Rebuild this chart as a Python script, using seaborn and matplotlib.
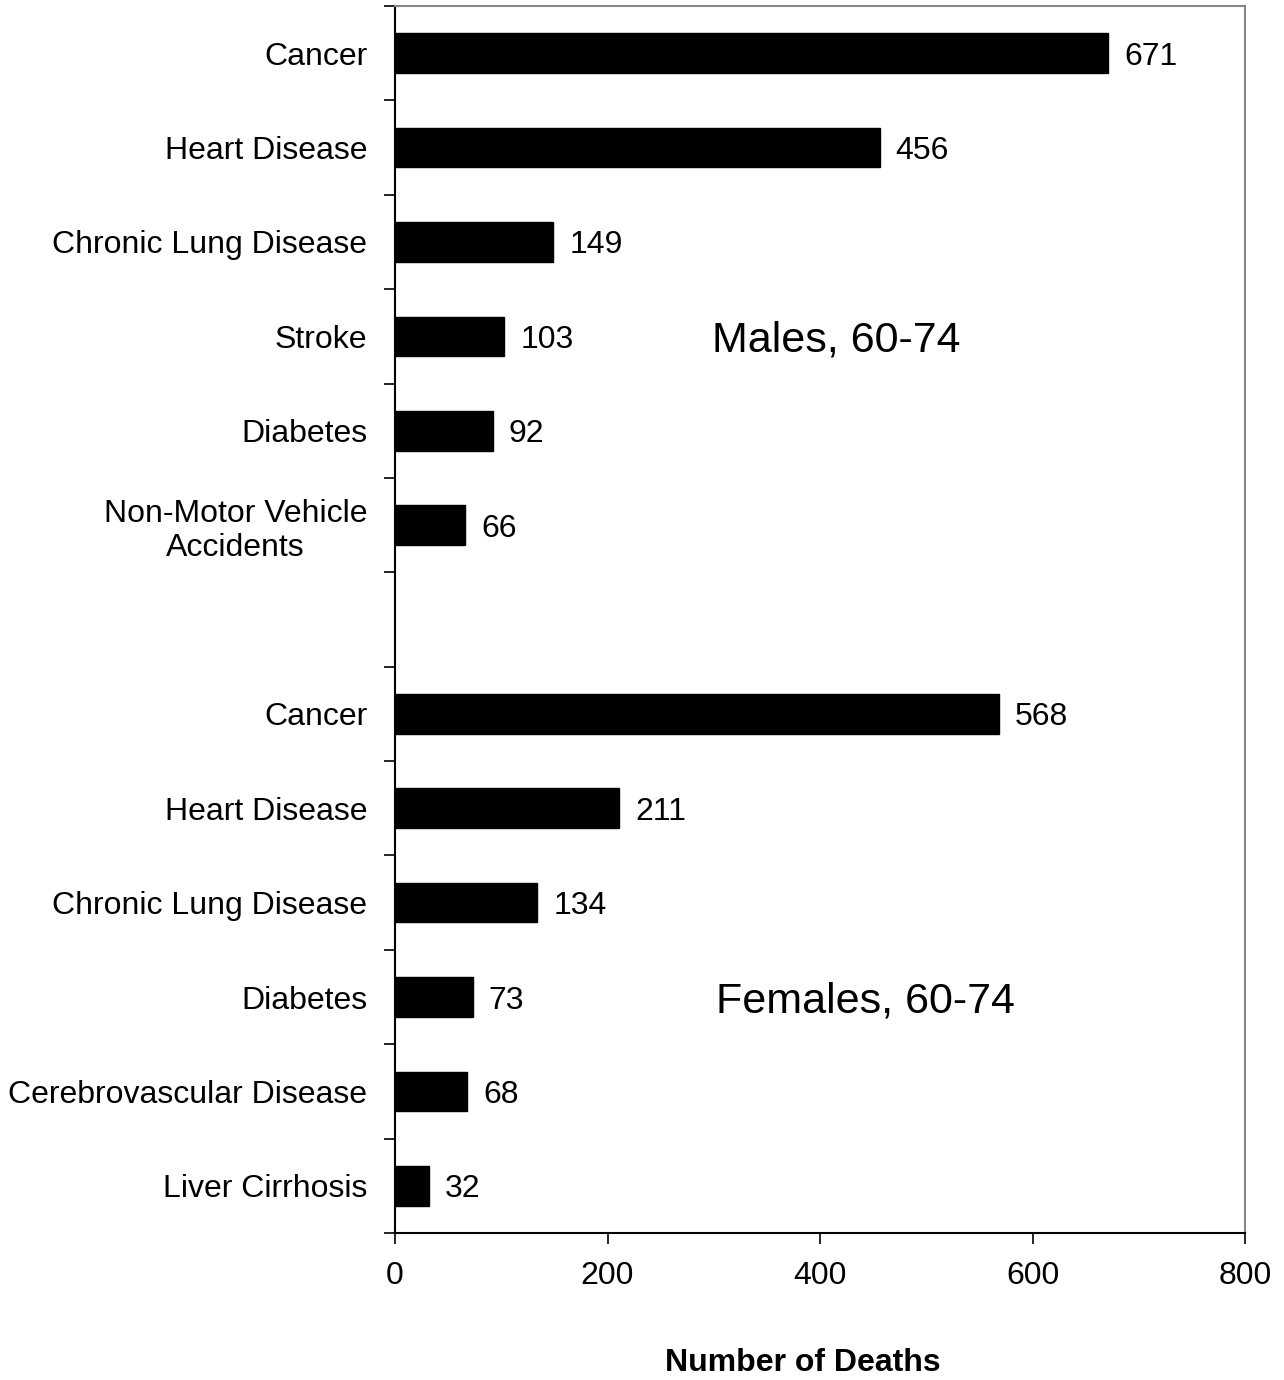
import matplotlib
matplotlib.use("Agg")
import matplotlib.pyplot as plt
import seaborn as sns
import pandas as pd
import numpy as np

male_causes = ["Cancer", "Heart Disease", "Chronic Lung Disease", "Stroke", "Diabetes",
               "Non-Motor Vehicle\nAccidents"]
male_deaths = [671, 456, 149, 103, 92, 66]
female_causes = ["Cancer", "Heart Disease", "Chronic Lung Disease", "Diabetes",
                 "Cerebrovascular Disease", "Liver Cirrhosis"]
female_deaths = [568, 211, 134, 73, 68, 32]
x_ticks = [0, 200, 400, 600, 800]
group_labels = ["Males, 60-74", "Females, 60-74"]
x_label = "Number of Deaths"

sns.set_theme(style="white")
plt.rcParams['font.family'] = ['Liberation Sans', 'DejaVu Sans']
plt.rcParams['text.color'] = 'black'
plt.rcParams['xtick.color'] = 'black'
plt.rcParams['ytick.color'] = 'black'

keys = [f"M{i}" for i in range(len(male_causes))] + ["gap"] + [f"F{i}" for i in range(len(female_causes))]
labels = male_causes + [""] + female_causes
df = pd.DataFrame({
    "key": [f"M{i}" for i in range(len(male_causes))] + [f"F{i}" for i in range(len(female_causes))],
    "deaths": male_deaths + female_deaths,
})

fig = plt.figure(figsize=(12.84, 13.80), dpi=100)
ax = fig.add_axes([395/1284, 1 - 1233/1380, (1245-395)/1284, (1233-6)/1380])

sns.barplot(data=df, x="deaths", y="key", order=keys, orient="h", color="black",
            width=0.42, saturation=1, ax=ax, edgecolor="black")

fs = 23
ax.set_xlim(0, 800)
ax.set_ylim(len(keys) - 0.5, -0.5)
ax.set_xticks(x_ticks)
ax.set_xticklabels([str(t) for t in x_ticks], fontsize=fs)
ax.set_yticks(range(len(keys)))
ax.set_yticklabels(labels, fontsize=fs, ha="right", multialignment="center")
ax.set_yticks(np.arange(-0.5, len(keys), 1.0), minor=True)
ax.tick_params(axis="y", which="major", length=0, pad=20)
ax.tick_params(axis="y", which="minor", length=8, width=1.2, color="black", left=True)
ax.tick_params(axis="x", which="major", length=8, width=1.2, color="black", bottom=True, pad=12)
ax.set_ylabel("")
ax.set_xlabel("")
fig.text(803/1284, 1 - 1363/1380, x_label, fontsize=fs, fontweight="bold", ha="center", va="center")

for side in ["left", "bottom"]:
    ax.spines[side].set_color("black")
    ax.spines[side].set_linewidth(1.5)
for side in ["top", "right"]:
    ax.spines[side].set_color("#888888")
    ax.spines[side].set_linewidth(1.5)

for i, v in enumerate(male_deaths):
    ax.text(v + 15, i, str(v), va="center_baseline", ha="left", fontsize=fs)
off = len(male_causes) + 1
for i, v in enumerate(female_deaths):
    ax.text(v + 15, off + i, str(v), va="center_baseline", ha="left", fontsize=fs)

ax.text(0.373, 3.0, group_labels[0], transform=ax.get_yaxis_transform(), fontsize=31, va="center_baseline", ha="left")
ax.text(0.378, 10.0, group_labels[1], transform=ax.get_yaxis_transform(), fontsize=31, va="center_baseline", ha="left")

fig.savefig("out.png", dpi=100)
